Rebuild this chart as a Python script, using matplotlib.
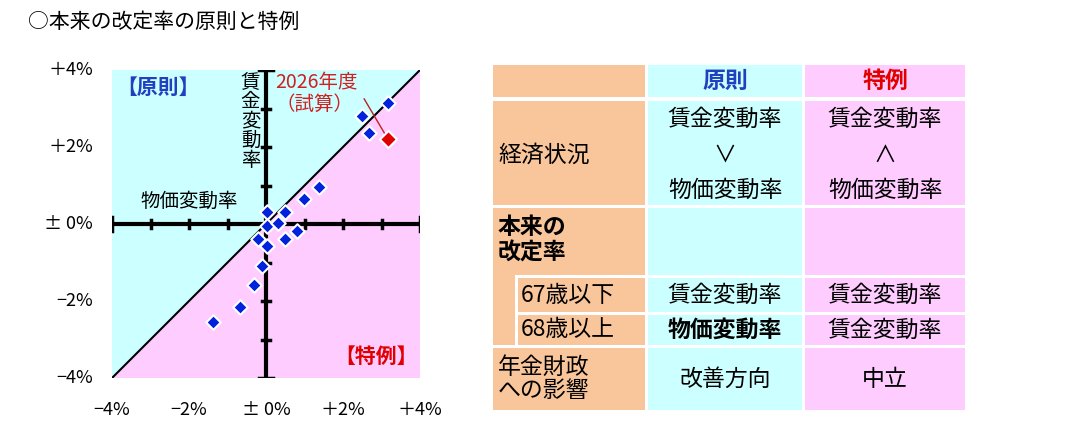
import matplotlib
matplotlib.use("Agg")
import matplotlib.pyplot as plt
from matplotlib.patches import Rectangle, Polygon

plt.rcParams["font.family"] = ["Noto Sans CJK JP", "DejaVu Sans"]

# data: (price change %, wage change %)
price = [3.16, 2.49, 2.67, 1.38, 0.99, 0.03, 0.49, 0.03, 0.30, 0.81, 0.49, -0.20, 0.03, -0.10, -0.30, -0.68, -1.37]
wage = [3.13, 2.80, 2.36, 0.95, 0.64, 0.32, 0.32, -0.04, 0.02, -0.18, -0.39, -0.39, -0.57, -1.08, -1.58, -2.15, -2.55]
price_2026, wage_2026 = 3.18, 2.22
ticks = [-4, -2, 0, 2, 4]
tick_labels = ["−4%", "−2%", "± 0%", "＋2%", "＋4%"]

CYAN, PINK, ORANGE = "#ccffff", "#ffccff", "#f9c59b"
BLUE, RED = "#2040c0", "#e00000"

W, H = 1080, 432
fig = plt.figure(figsize=(10.8, 4.32), dpi=100)

# overlay axes in pixel coordinates
bg = fig.add_axes([0, 0, 1, 1])
bg.set_xlim(0, W); bg.set_ylim(H, 0); bg.axis("off")
bg.text(28, 22, "○本来の改定率の原則と特例", fontsize=15, va="center", ha="left")

# ---- scatter panel ----
x0, x1, y0, y1 = 112, 420, 70, 378
ax = fig.add_axes([x0 / W, 1 - y1 / H, (x1 - x0) / W, (y1 - y0) / H])
ax.set_xlim(-4, 4); ax.set_ylim(-4, 4); ax.axis("off")
ax.add_patch(Polygon([(-4, -4), (-4, 4), (4, 4)], color=CYAN, zorder=0))
ax.add_patch(Polygon([(-4, -4), (4, -4), (4, 4)], color=PINK, zorder=0))
ax.plot([-4, 4], [-4, 4], color="black", lw=1.5, zorder=1)
ax.plot([-4, 4], [0, 0], color="black", lw=3, zorder=2)
ax.plot([0, 0], [-4, 4], color="black", lw=3, zorder=2)
for t in range(-4, 5):
    if t == 0:
        continue
    s = 0.17 if abs(t) == 4 else 0.1
    ax.plot([t, t], [-s, s], color="black", lw=2.5, zorder=2)
    ax.plot([-s, s], [t, t], color="black", lw=2.5, zorder=2)
ax.scatter(price, wage, marker="D", s=55, color="#0022dd", edgecolors="white", linewidths=1.5, zorder=4)
ax.scatter([price_2026], [wage_2026], marker="D", s=75, color=RED, edgecolors="white", linewidths=1.5, zorder=5)
ax.plot([price_2026 - 0.08, 2.55], [wage_2026 + 0.1, 3.25], color="#c02020", lw=1, zorder=3)
ax.text(0.25, 3.95, "2026年度\n（試算）", color="#d02020", fontsize=14, va="top", ha="left", linespacing=1.05, zorder=6)
ax.text(-3.9, 3.55, "【原則】", color=BLUE, fontsize=15, va="center", ha="left", weight="bold")
ax.text(3.95, -3.45, "【特例】", color=RED, fontsize=15, va="center", ha="right", weight="bold")
ax.text(-0.15, 3.95, "賃\n金\n変\n動\n率", fontsize=14, va="top", ha="right", linespacing=0.9)
ax.text(-2.0, 0.6, "物価変動率", fontsize=14, va="center", ha="center")
for t, lab in zip(ticks, tick_labels):
    py = 224 - t * 38.5
    bg.text(93, py, lab, fontsize=13, ha="right", va="center")
    bg.text(266 + t * 38.5, 410, lab, fontsize=13, ha="center", va="center")

# ---- table ----
cols = [(493, 645), (648, 802), (805, 965)]
rows = [(65, 97), (101, 205), (208, 275), (278, 312), (315, 345), (348, 410)]
fills = [ORANGE, CYAN, PINK]
for ri, (ya, yb) in enumerate(rows):
    for ci, (xa, xb) in enumerate(cols):
        bg.add_patch(Rectangle((xa, ya), xb - xa, yb - ya, color=fills[ci], lw=0))
# sub-row indentation in the left column
bg.add_patch(Rectangle((493, 275), 22, 70, color=ORANGE, lw=0))
bg.add_patch(Rectangle((515, 275), 3, 70, color="white", lw=0))
bg.add_patch(Rectangle((515, 312), 130, 3, color="white", lw=0))

FS = 16.5
def cell(ci, y, s, **kw):
    xa, xb = cols[ci]
    bg.text((xa + xb) / 2, y, s, fontsize=FS, ha="center", va="center", **kw)

cell(1, 81, "原則", color=BLUE, weight="bold")
cell(2, 81, "特例", color=RED, weight="bold")
bg.text(498, 155, "経済状況", fontsize=FS, va="center", ha="left")
cell(1, 119, "賃金変動率"); cell(1, 155, "∨"); cell(1, 190, "物価変動率")
cell(2, 119, "賃金変動率"); cell(2, 155, "∧"); cell(2, 190, "物価変動率")
bg.text(498, 240, "本来の\n改定率", fontsize=FS, va="center", ha="left", weight="bold", linespacing=1.1)
bg.text(521, 295, "67歳以下", fontsize=FS, va="center", ha="left")
bg.text(521, 330, "68歳以上", fontsize=FS, va="center", ha="left")
cell(1, 295, "賃金変動率"); cell(2, 295, "賃金変動率")
cell(1, 330, "物価変動率", weight="bold"); cell(2, 330, "賃金変動率")
bg.text(498, 379, "年金財政\nへの影響", fontsize=FS, va="center", ha="left", linespacing=1.05)
cell(1, 379, "改善方向"); cell(2, 379, "中立")

fig.savefig("out.png", dpi=100)
